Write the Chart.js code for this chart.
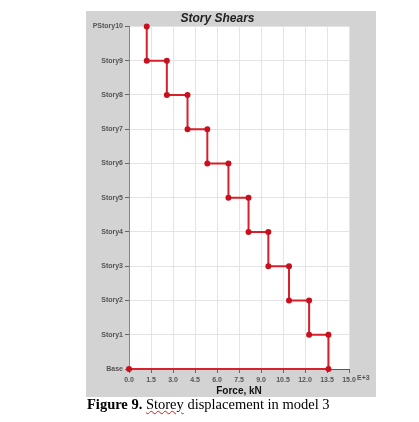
<!DOCTYPE html>
<html>
<head>
<meta charset="utf-8">
<script src="https://cdn.jsdelivr.net/npm/chart.js@4"></script>
<style>
  body { margin: 0; background: #fff; width: 419px; height: 422px; position: relative; font-family: "Liberation Sans", Arial, sans-serif; }
  #panel { position: absolute; left: 86px; top: 11px; width: 290px; height: 386px; background: #d3d3d3; }
  #caption { position: absolute; left: 87px; top: 396px; font-family: "Liberation Serif", "Times New Roman", serif; font-size: 14.5px; color: #000; white-space: nowrap; }
  #caption .sp { text-decoration: underline wavy #d02020; text-decoration-thickness: 1px; }
</style>
</head>
<body>
<div id="panel"><canvas id="chart" width="290" height="386"></canvas></div>
<div id="caption"><b>Figure 9.</b> <span class="sp">Storey</span> displacement in model 3</div>
<script>
// story levels, bottom to top
const storyLabels = ["Base", "Story1", "Story2", "Story3", "Story4", "Story5", "Story6", "Story7", "Story8", "Story9", "PStory10"];
// shear in each storey (E+3 kN), Story1 .. PStory10
const storyShear = [13.6, 12.28, 10.91, 9.5, 8.15, 6.78, 5.34, 3.99, 2.58, 1.21];
const xTicks = [0, 1.5, 3.0, 4.5, 6.0, 7.5, 9.0, 10.5, 12.0, 13.5, 15.0];

// step line: from the top storey down to the base
let pts = [];
for (let i = storyShear.length - 1; i >= 0; i--) {
  pts.push({ x: storyShear[i], y: i + 1 });
  pts.push({ x: storyShear[i], y: i });
}
pts.push({ x: 0, y: 0 });

const plotBg = {
  id: "plotBg",
  beforeDraw(chart) {
    const a = chart.chartArea, c = chart.ctx;
    c.save();
    c.fillStyle = "#ffffff";
    c.fillRect(a.left, a.top, a.right - a.left, a.bottom - a.top);
    c.restore();
  },
  afterDraw(chart) {
    const c = chart.ctx, xs = chart.scales.x;
    c.save();
    c.font = "bold 7px 'Liberation Sans', Arial";
    c.fillStyle = "#555";
    c.textBaseline = "top";
    c.fillText("E+3", xs.getPixelForValue(15) + 8, chart.chartArea.bottom + 6);
    c.restore();
  }
};

new Chart(document.getElementById("chart"), {
  type: "scatter",
  data: {
    datasets: [{
      data: pts,
      showLine: true,
      borderColor: "#d8202c",
      borderWidth: 2,
      backgroundColor: "#c8101e",
      pointBackgroundColor: "#c8101e",
      pointBorderColor: "#c8101e",
      pointRadius: 2,
      clip: false
    }]
  },
  options: {
    responsive: false,
    animation: false,
    layout: { padding: { top: 0, right: 27, bottom: 0, left: 0 } },
    plugins: {
      legend: { display: false },
      tooltip: { enabled: false },
      title: {
        display: true,
        text: "Story Shears",
        color: "#222",
        font: { family: "'Liberation Sans', Arial", size: 12, weight: "bold", style: "italic" },
        padding: { top: 0, bottom: 1 }
      }
    },
    scales: {
      x: {
        type: "linear",
        min: 0,
        max: 15,
        afterBuildTicks(s) { s.ticks = xTicks.map(v => ({ value: v })); },
        afterFit(s) { s.height = 28; },
        ticks: {
          autoSkip: false,
          maxRotation: 0,
          padding: 3,
          color: "#555",
          font: { family: "'Liberation Sans', Arial", size: 7, weight: "bold" },
          callback: v => v.toFixed(1)
        },
        grid: { color: "#e4e4e4", tickColor: "#666", tickLength: 4, drawTicks: true },
        border: { color: "#d8202c", width: 1 },
        title: {
          display: true,
          text: "Force, kN",
          color: "#111",
          font: { family: "'Liberation Sans', Arial", size: 10, weight: "bold" },
          padding: { top: 0, bottom: 0 }
        }
      },
      y: {
        type: "linear",
        min: 0,
        max: 10,
        afterBuildTicks(s) { s.ticks = storyLabels.map((l, i) => ({ value: i })); },
        afterFit(s) { s.width = 43; },
        ticks: {
          autoSkip: false,
          padding: 2,
          color: "#555",
          font: { family: "'Liberation Sans', Arial", size: 7, weight: "bold" },
          callback: v => storyLabels[v]
        },
        grid: { color: "#e4e4e4", tickColor: "#666", tickLength: 4, drawTicks: true },
        border: { color: "#d86070", width: 1 }
      }
    }
  },
  plugins: [plotBg]
});
</script>
</body>
</html>
